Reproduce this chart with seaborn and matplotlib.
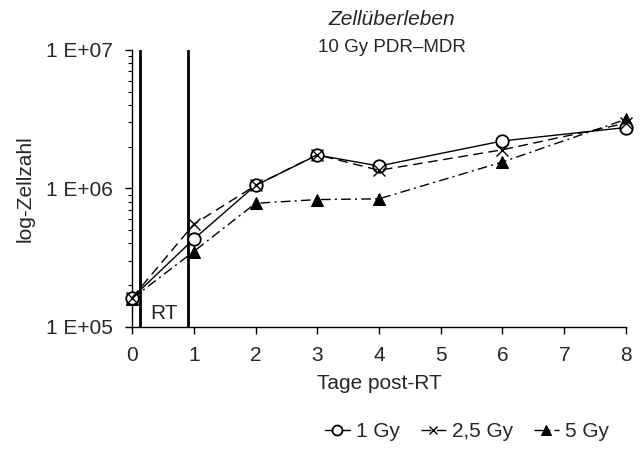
import numpy as np
import pandas as pd
import seaborn as sns
import matplotlib
matplotlib.use("Agg")
import matplotlib.pyplot as plt
from matplotlib.ticker import FixedLocator, FixedFormatter, LogLocator, NullFormatter

# --- Daten ---
tage = [0, 1, 2, 3, 4, 6, 8]
gy_1 = [1.62e5, 4.3e5, 1.05e6, 1.74e6, 1.45e6, 2.2e6, 2.75e6]
gy_2_5 = [1.62e5, 5.5e5, 1.05e6, 1.75e6, 1.35e6, 1.9e6, 2.95e6]
gy_5 = [1.60e5, 3.5e5, 7.8e5, 8.3e5, 8.4e5, 1.55e6, 3.15e6]
rt_grenzen = [0.13, 0.91]
y_ticks = [1e5, 1e6, 1e7]
y_labels = ["1 E+05", "1 E+06", "1 E+07"]

sns.set_theme(style="ticks")
plt.rcParams['font.family'] = ['Liberation Sans', 'DejaVu Sans']

fig = plt.figure(figsize=(6.44, 4.49), dpi=100)
ax = fig.add_axes([0.205, 0.272, 0.767, 0.617])

df = pd.DataFrame({"tag": tage, "1 Gy": gy_1, "2,5 Gy": gy_2_5, "5 Gy": gy_5})

sns.lineplot(data=df, x="tag", y="1 Gy", ax=ax, color="black", lw=1.0, clip_on=False,
             marker="o", markersize=9, markerfacecolor="white", markeredgecolor="black",
             markeredgewidth=1.3, label="1 Gy", zorder=4)
sns.lineplot(data=df, x="tag", y="2,5 Gy", ax=ax, color="black", lw=1.0, linestyle=(0, (7, 4)),
             clip_on=False, marker="x", markersize=8, markeredgecolor="black",
             markeredgewidth=1.0, label="2,5 Gy", zorder=5)
sns.lineplot(data=df, x="tag", y="5 Gy", ax=ax, color="black", lw=1.0, linestyle=(0, (7, 3, 1.5, 3)),
             clip_on=False, marker="^", markersize=9, markerfacecolor="black",
             markeredgecolor="black", label="5 Gy", zorder=3)

for xr in rt_grenzen:
    ax.axvline(xr, color="black", lw=2.0, zorder=1)
ax.text(0.52, 1.24e5, "RT", fontsize=15, ha="center", va="center")

ax.set_yscale("log")
ax.set_ylim(1e5, 1e7)
ax.set_xlim(0, 8)
ax.yaxis.set_major_locator(FixedLocator(y_ticks))
ax.yaxis.set_major_formatter(FixedFormatter(y_labels))
ax.yaxis.set_minor_locator(LogLocator(base=10, subs=np.arange(2, 10)))
ax.yaxis.set_minor_formatter(NullFormatter())
ax.set_xticks(range(0, 9))

ax.tick_params(axis="both", which="major", direction="out", length=5, width=1, labelsize=15,
               color="black")
ax.tick_params(axis="x", which="major", pad=9)
ax.tick_params(axis="y", which="major", pad=9)
ax.tick_params(axis="y", which="minor", direction="out", length=3, width=0.8, color="black")
for s in ["top", "right"]:
    ax.spines[s].set_visible(False)
for s in ["left", "bottom"]:
    ax.spines[s].set_color("black")
    ax.spines[s].set_linewidth(1.0)

ax.set_xlabel("Tage post-RT", fontsize=15, labelpad=6)
ax.set_ylabel("log-Zellzahl", fontsize=15, labelpad=8)

fig.text(0.609, 0.957, "Zellüberleben", fontsize=15, style="italic", ha="center", va="center")
fig.text(0.609, 0.895, "10 Gy PDR–MDR", fontsize=13.5, ha="center", va="center")

ax.legend(loc="center", bbox_to_anchor=(0.725, 0.038), bbox_transform=fig.transFigure,
          ncol=3, frameon=False, fontsize=15, handlelength=1.2, handletextpad=0.3,
          columnspacing=1.0, markerscale=0.8)

fig.savefig("out.png", dpi=100)
